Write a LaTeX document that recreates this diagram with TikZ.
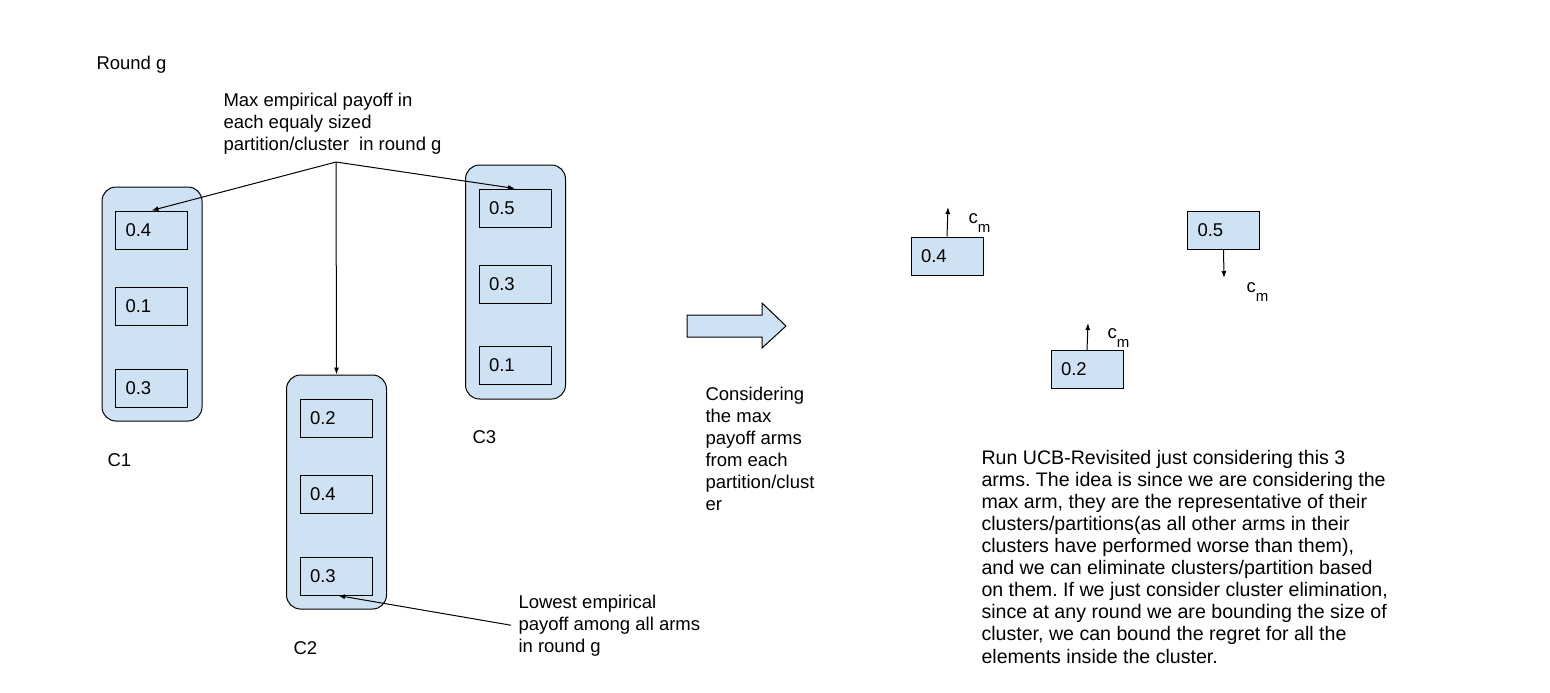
\documentclass[tikz,border=0pt]{standalone}
\usepackage{fontspec}
\setmainfont{Liberation Sans}
\usetikzlibrary{arrows.meta}
\definecolor{armblue}{HTML}{CFE2F3}
\newcommand{\cmlbl}{c\raisebox{-4.5pt}{\fontsize{7.5}{8}\selectfont m}}
\frenchspacing
\begin{document}
\begin{tikzpicture}[x=0.5pt,y=-0.5pt,line width=0.5pt,
                font=\fontsize{9.25}{11}\selectfont,
                cluster/.style={draw, fill=armblue, rounded corners=7pt, minimum width=50pt, minimum height=117pt},
                arm/.style={draw, fill=armblue, text width=26pt, inner xsep=5pt, minimum height=19pt, align=left},
                ptr/.style={-{Latex[length=3.5pt,width=2.5pt]}}]
              % note: base of a multi-line note is its last line
              \tikzstyle{note}=[anchor=base west, inner sep=0pt, align=left]
              \useasboundingbox (0,0) rectangle (1550,692);

              % round g: three clusters of arms
              \node[cluster] (c1) at (152,304) {};
              \node[cluster] (c2) at (336.5,492) {};
              \node[cluster] (c3) at (515.5,282) {};
              \node[arm] (a11) at (151.5,230) {0.4};
              \node[arm] (a12) at (151.5,306) {0.1};
              \node[arm] (a13) at (151.5,388) {0.3};
              \node[arm] (a21) at (336,418) {0.2};
              \node[arm] (a22) at (336,494.5) {0.4};
              \node[arm] (a23) at (336,576) {0.3};
              \node[arm] (a31) at (515,208) {0.5};
              \node[arm] (a32) at (515,284) {0.3};
              \node[arm] (a33) at (515,365.5) {0.1};

              \node[note] (round) at (96,69) {Round g};
              \node[note] (c1lbl) at (107,466) {C1};
              \node[note] (c2lbl) at (293,654) {C2};
              \node[note] (c3lbl) at (472,443) {C3};
              \node[note] (maxtxt) at (223,150) {Max empirical payoff in\\each equaly sized\\partition/cluster\ \ in round g};
              \node[note] (lowtxt) at (518,652) {Lowest empirical\\payoff among all arms\\in round g};

              \coordinate (hub) at (336,162);
              \draw[ptr] (hub) -- (a11.north);
              \draw[ptr] (hub) -- (c2.north);
              \draw[ptr] (hub) -- (a31.north);
              \draw[ptr] ([xshift=-3.5pt]lowtxt.west) -- ([xshift=1pt]a23.south);

              % block arrow
              \draw[fill=armblue] (687,315) -- (762,315) -- (762,303) -- (786,326)
                -- (762,348) -- (762,337) -- (687,337) -- cycle;
              \node[note] (constxt) at (705,510) {Considering\\the max\\payoff arms\\from each\\partition/clust\\er};

              % max arms only
              \node[arm] (r1) at (947,256) {0.4};
              \node[arm] (r2) at (1087,369.5) {0.2};
              \node[arm] (r3) at (1223.5,230) {0.5};
              \coordinate (u1) at (948,207);
              \coordinate (u2) at (1088,323);
              \coordinate (u3) at (1224,278);
              \draw[ptr] (r1.north) -- (u1);
              \draw[ptr] (r2.north) -- (u2);
              \draw[ptr] (r3.south) -- (u3);
              \node[note] (m1) at (968,223) {\cmlbl};
              \node[note] (m2) at (1107,338) {\cmlbl};
              \node[note] (m3) at (1246,292) {\cmlbl};

              \node[note, font=\fontsize{9.8}{11.05}\selectfont] (runtxt) at (981,663) {Run UCB-Revisited just considering this 3\\arms. The idea is since we are considering the\\max arm, they are the representative of their\\clusters/partitions(as all other arms in their\\clusters have performed worse than them),\\and we can eliminate clusters/partition based\\on them. If we just consider cluster elimination,\\since at any round we are bounding the size of\\cluster, we can bound the regret for all the\\elements inside the cluster.};
            \end{tikzpicture}
\end{document}
